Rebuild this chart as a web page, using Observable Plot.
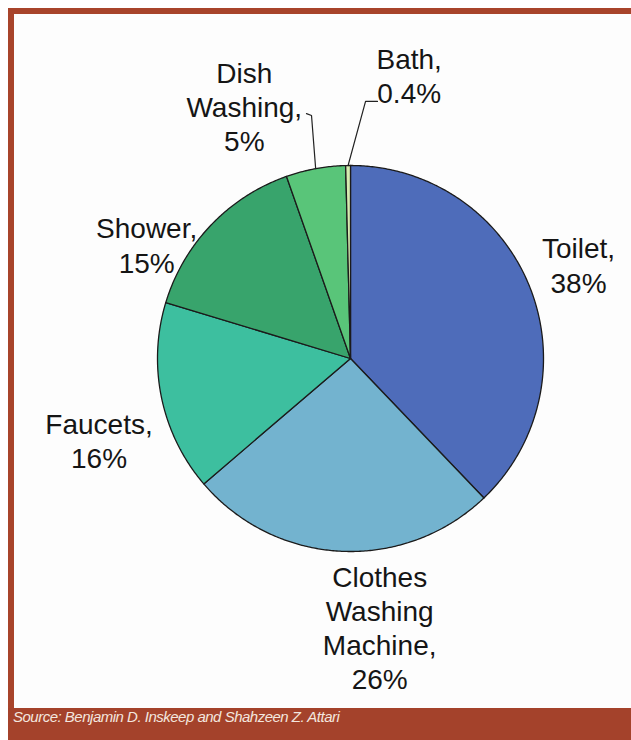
<!DOCTYPE html>
<html>
<head>
<meta charset="utf-8">
<script src="https://cdn.jsdelivr.net/npm/d3@7"></script>
<script src="https://cdn.jsdelivr.net/npm/@observablehq/plot@0.6"></script>
<style>
  html, body { margin: 0; padding: 0; background: #ffffff; }
  body { width: 631px; height: 740px; position: relative; overflow: hidden; font-family: "Liberation Sans", Arial, sans-serif; }
  #frame { position: absolute; left: 8px; top: 8px; width: 617px; height: 694px;
           border-left: 6px solid #a8442b; border-top: 6px solid #a8442b; background: #fdfdfd; }
  #frame svg { display: block; }
  #footer { position: absolute; left: 8px; top: 708px; width: 623px; height: 32px; background: #a4422b;
            color: #f3e6df; font-style: italic; font-size: 15px; line-height: 17px; letter-spacing: -0.5px;
            padding-left: 5px; box-sizing: border-box; }
</style>
</head>
<body>
<div id="frame"></div>
<div id="footer">Source: Benjamin D. Inskeep and Shahzeen Z. Attari</div>
<script>
// ---- data ----
const categories = ["Toilet", "Clothes Washing Machine", "Faucets", "Shower", "Dish Washing", "Bath"];
const labelNames = ["Toilet,", "Clothes\nWashing\nMachine,", "Faucets,", "Shower,", "Dish\nWashing,", "Bath,"];
const values = [38, 26, 16, 15, 5, 0.4];
const pctLabels = ["38%", "26%", "16%", "15%", "5%", "0.4%"];

// ---- styles / layout ----
const colors = ["#4e6cba", "#73b3cf", "#3dbf9f", "#38a46c", "#59c579", "#d6ecb0"];
// label placement: angle (deg, clockwise from 12 o'clock) and distance in pie radii
const labelAngle = [67.6, 173.8, 252, 299.2, 337.2, 11.7];
const labelRadius = [1.278, 1.40, 1.37, 1.21, 1.42, 1.5];
// leader line elbows (in pie radii) for small slices: category index -> points
const leaderElbows = {4: [[-0.228, -1.269], [-0.202, -1.259]], 5: [[0.140, -1.332], [0.078, -1.332]]};

const W = 617, H = 694, R = 193, CX = 336, CY = 344;

const pie = d3.pie().sort(null).value(d => d.value);
const rows = categories.map((c, i) => ({name: c, value: values[i], i}));
const arcs = pie(rows);

const slicePts = [];
arcs.forEach(a => {
  const name = a.data.name;
  slicePts.push({name, x: 0, y: 0});
  const n = Math.max(2, Math.ceil((a.endAngle - a.startAngle) / (Math.PI / 360)));
  for (let k = 0; k <= n; k++) {
    const t = a.startAngle + (a.endAngle - a.startAngle) * k / n;
    slicePts.push({name, x: Math.sin(t), y: -Math.cos(t)});
  }
  slicePts.push({name, x: 0, y: 0});
});

const labels = categories.map((c, i) => {
  const t = labelAngle[i] * Math.PI / 180;
  return {name: c, text: labelNames[i] + "\n" + pctLabels[i],
          x: labelRadius[i] * Math.sin(t), y: -labelRadius[i] * Math.cos(t)};
});

const leaders = [];
Object.entries(leaderElbows).forEach(([idx, pts]) => {
  const a = arcs[+idx];
  const mid = (a.startAngle + a.endAngle) / 2;
  pts.forEach(p => leaders.push({name: categories[idx], x: p[0], y: p[1]}));
  leaders.push({name: categories[idx], x: Math.sin(mid), y: -Math.cos(mid)});
});

const chart = Plot.plot({
  width: W, height: H,
  margin: 0,
  style: {background: "transparent", overflow: "visible"},
  x: {domain: [-CX / R, (W - CX) / R], range: [0, W], axis: null},
  y: {domain: [-CY / R, (H - CY) / R], range: [0, H], axis: null},
  color: {domain: categories, range: colors},
  marks: [
    Plot.line(slicePts, {x: "x", y: "y", z: "name", fill: "name", stroke: "#1b1b1b", strokeWidth: 1.3, strokeLinejoin: "round"}),
    Plot.line(leaders, {x: "x", y: "y", z: "name", stroke: "#222", strokeWidth: 1.2}),
    Plot.text(labels, {x: "x", y: "y", text: "text", fontSize: 28, lineHeight: 1.22, fill: "#151515",
                       fontFamily: "Liberation Sans, Arial, sans-serif", textAnchor: "middle"})
  ]
});
document.getElementById("frame").appendChild(chart);
</script>
</body>
</html>
